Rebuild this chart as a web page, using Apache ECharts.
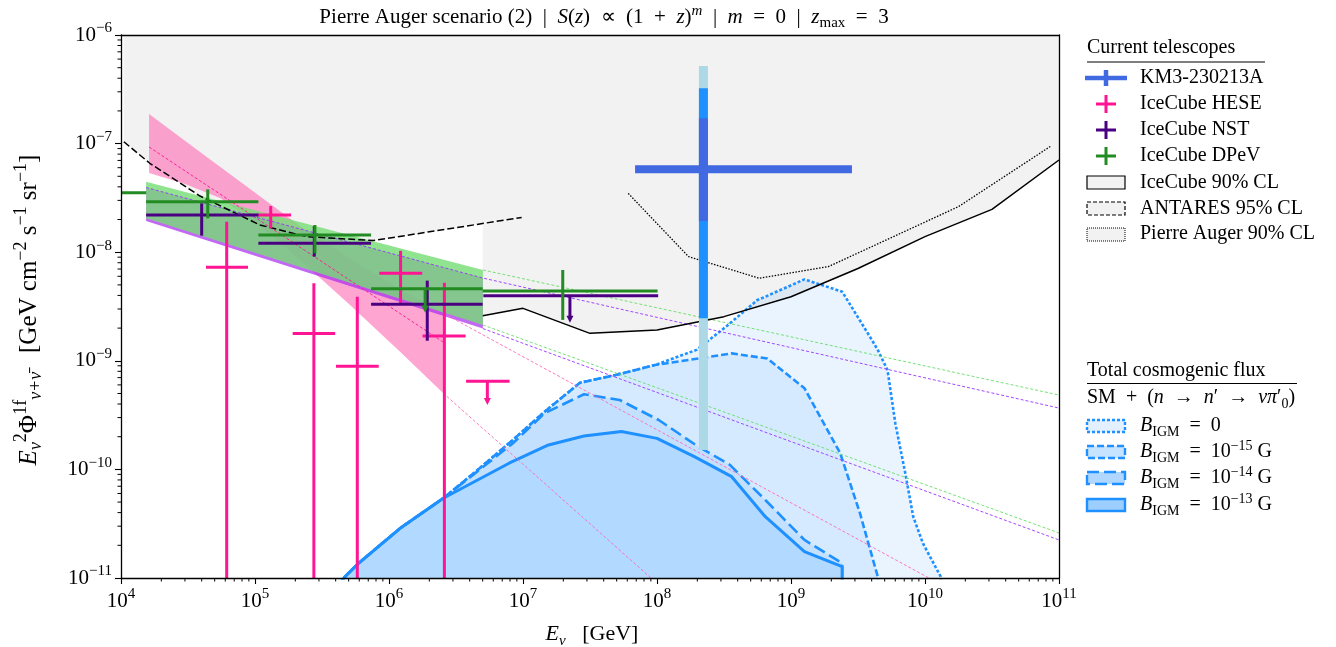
<!DOCTYPE html>
<html><head><meta charset="utf-8">
<script src="https://cdn.jsdelivr.net/npm/echarts@6/dist/echarts.min.js"></script>
<style>html,body{margin:0;padding:0;background:#fff}#c{width:1336px;height:647px}</style>
</head><body><div id="c"></div>
<script>
const FONT = 'Liberation Serif';

// ---------- experimental limits (E [GeV], E^2 Phi) ----------
const antaresLimit = [[1.05e4,1.04e-7],[1.64e4,6.59e-8],[3.89e4,3.29e-8],[1.09e5,1.78e-8],[2.43e5,1.39e-8],[7.64e5,1.28e-8],[9.77e6,2.09e-8]];
const icecubeLimit = [[5.01e6,2.60e-9],[1e7,3.04e-9],[3.16e7,1.79e-9],[1e8,1.92e-9],[3.16e8,2.55e-9],[1e9,3.89e-9],[3.16e9,7.08e-9],[1e10,1.39e-8],[3.16e10,2.48e-8],[1e11,7.06e-8]];
const augerLimit = [[6.1e7,3.48e-8],[1.72e8,9.1e-9],[5.81e8,5.75e-9],[1.9e9,7.36e-9],[1.78e10,2.63e-8],[8.71e10,9.5e-8]];

// ---------- cosmogenic fluxes ----------
const cosmoB0 = [[4.2e5,8.5e-12],[4.70e5,1.03e-11],[5.90e5,1.36e-11],[1.21e6,2.87e-11],[2.54e6,5.42e-11],[4.28e6,9.2e-11],[8.41e6,1.87e-10],[1.45e7,3.40e-10],[2.66e7,6.28e-10],[4.90e7,7.40e-10],[9.66e7,9.14e-10],[1.97e8,1.26e-9],[3.27e8,2.06e-9],[5.61e8,3.63e-9],[6.43e8,3.89e-9],[1.26e9,5.62e-9],[2.41e9,4.33e-9],[4.01e9,1.56e-9],[4.44e9,1.26e-9],[5.25e9,8.23e-10],[6.01e9,2.65e-10],[7.13e9,9.2e-11],[8.17e9,3.67e-11],[9.66e9,2.08e-11],[1.31e10,1.03e-11],[1.35e10,1e-12]];
const cosmoB15 = [[4.2e5,8.5e-12],[4.70e5,1.03e-11],[5.90e5,1.36e-11],[1.21e6,2.87e-11],[2.54e6,5.42e-11],[4.28e6,9.2e-11],[8.41e6,1.87e-10],[1.45e7,3.40e-10],[2.66e7,6.28e-10],[4.90e7,7.40e-10],[9.66e7,9.14e-10],[3.61e8,1.17e-9],[6.65e8,1.05e-9],[1.26e9,5.59e-10],[2.33e9,1.41e-10],[3.27e9,3.95e-11],[4.44e9,1.03e-11],[4.6e9,1e-12]];
const cosmoB14 = [[4.2e5,8.5e-12],[4.70e5,1.03e-11],[5.90e5,1.36e-11],[1.21e6,2.87e-11],[2.54e6,5.42e-11],[4.28e6,9.0e-11],[8.41e6,1.74e-10],[1.45e7,3.29e-10],[2.85e7,4.92e-10],[5.25e7,4.36e-10],[1.03e8,2.85e-10],[2.03e8,1.62e-10],[3.50e8,1.10e-10],[6.43e8,5.23e-11],[1.26e9,2.24e-11],[2.41e9,1.37e-11],[2.41e9,1e-12]];
const cosmoB13 = [[4.2e5,8.5e-12],[4.70e5,1.03e-11],[5.90e5,1.36e-11],[1.21e6,2.87e-11],[2.54e6,5.42e-11],[7.87e6,1.14e-10],[1.55e7,1.68e-10],[2.85e7,2.03e-10],[5.43e7,2.23e-10],[1.0e8,1.93e-10],[1.90e8,1.31e-10],[3.61e8,8.57e-11],[6.43e8,3.67e-11],[1.26e9,1.75e-11],[2.41e9,1.27e-11],[2.41e9,1e-12]];

// ---------- fitted bands ----------
const pinkUpper = [[1.62e4,1.87e-7],[3.89e4,8.38e-8],[9.19e4,3.82e-8],[2.17e5,1.74e-8],[5.12e5,8.65e-9],[1.21e6,4.58e-9],[2.53e6,2.75e-9]];
const pinkLower = [[1.62e4,5.36e-8],[3.01e4,4.25e-8],[5.48e4,3.16e-8],[1.09e5,1.74e-8],[2.17e5,8.47e-9],[5.12e5,3.27e-9],[1.21e6,1.21e-9],[2.53e6,5.05e-10]];
const greenUpper = [[1.54e4,4.46e-8],[5.02e6,6.86e-9]];
const greenLower = [[1.54e4,2.05e-8],[5.02e6,2.14e-9]];
const purpleUpper = [[1.54e4,3.94e-8],[5.02e6,5.78e-9]];
const purpleLower = [[1.54e4,1.94e-8],[5.02e6,1.98e-9]];

// ---------- thin dashed extrapolations ----------
const pinkFit = [[1.62e4,9.3e-8],[2.53e6,1.49e-9]];
const pinkExtUpper = [[2.53e6,2.75e-9],[1.07e10,1e-11]];
const pinkExtLower = [[2.53e6,5.05e-10],[9.02e7,1e-11]];
const greenExtUpper = [[5.02e6,6.86e-9],[1e11,4.84e-10]];
const greenExtLower = [[5.02e6,2.14e-9],[1e11,2.6e-11]];
const purpleExtUpper = [[1.54e4,3.94e-8],[5.02e6,5.78e-9],[1e11,3.67e-10]];
const purpleExtLower = [[5.02e6,1.98e-9],[1e11,2.24e-11]];

// ---------- data points: [E, flux, Elo, Ehi, fluxLo, fluxHi] ----------
const hesePoints = [
  [6.15e4,7.26e-9,4.31e4,8.87e4,1e-13,1.91e-8],
  [1.31e5,2.2e-8,1.04e5,1.86e5,1.66e-8,2.66e-8],
  [2.75e5,1.78e-9,1.91e5,3.97e5,1e-13,5.18e-9],
  [5.8e5,8.9e-10,4.02e5,8.38e5,1e-13,3.89e-9],
  [1.22e6,6.4e-9,8.47e5,1.77e6,3.39e-9,1.03e-8],
  [2.59e6,1.69e-9,1.78e6,3.73e6,1e-13,5.24e-9]];
// upper limits: [E, flux, Elo, Ehi, arrowEnd]
const heseUL = [[5.42e6,6.47e-10,3.76e6,7.94e6,4.0e-10]];
const nstPoints = [
  [4.0e4,2.2e-8,1.54e4,1.06e5,1.42e-8,2.82e-8],
  [2.77e5,1.21e-8,1.06e5,7.35e5,9.1e-9,1.74e-8],
  [1.93e6,3.31e-9,7.35e5,5.0e6,1.53e-9,5.47e-9]];
const nstUL = [[2.24e7,3.98e-9,5.06e6,1.02e8,2.29e-9]];
const dpevPoints = [
  [6.3e3,3.53e-8,2.5e3,1.54e4,2.7e-8,4.6e-8],
  [4.44e4,2.92e-8,1.54e4,1.06e5,2.05e-8,3.79e-8],
  [2.8e5,1.44e-8,1.06e5,7.35e5,9.77e-9,1.78e-8],
  [1.98e7,4.4e-9,5.0e6,1.01e8,2.38e-9,6.86e-9]];
const dpevUL = [[1.86e6,4.61e-9,7.35e5,5.0e6,2.83e-9]];
// KM3-230213A: [E, flux, Elo, Ehi]; sigma ranges [hi, lo] for 3,2,1 sigma
const km3Point = [[2.22e8,5.8e-8,6.86e7,2.85e9]];
const km3Sigma = [[5.19e-7,1.51e-10],[3.23e-7,2.46e-9],[1.71e-7,1.94e-8]];

// ---------- axis ticks ----------
const minorMult = [2,3,4,5,6,7,8,9];
const xDecades = [4,5,6,7,8,9,10];
const yDecades = [-11,-10,-9,-8,-7];
const xMinor = [], yMinor = [];
xDecades.forEach(d => minorMult.forEach(m => xMinor.push([m*Math.pow(10,d),1e-11])));
yDecades.forEach(d => minorMult.forEach(m => yMinor.push([1e4,m*Math.pow(10,d)])));

const fmtExp = v => { const e = Math.round(Math.log10(v)); return e < 0 ? '\u2212' + (-e) : '' + e; };
const tickRich = {
  b:{fontFamily:FONT,fontSize:21,color:'#000',fill:'#000',lineHeight:28},
  s:{fontFamily:FONT,fontSize:15,color:'#000',fill:'#000',verticalAlign:'top'}
};

function lineS(data, color, width, type, z, area) {
  const s = {type:'line', data, symbol:'none', silent:true, z,
    lineStyle:{color, width, type: type || 'solid'}};
  if (area) s.areaStyle = area;
  return s;
}
function fillS(data, origin, color, z) {
  return {type:'line', data, symbol:'none', silent:true, z,
    lineStyle:{width:0, color:'rgba(0,0,0,0)'}, areaStyle:{color, opacity:1, origin}};
}
function polyS(upper, lower, color, z) {
  const pts = upper.concat(lower.slice().reverse());
  return {type:'custom', silent:true, z, clip:true, data:[pts[0]],
    renderItem:(p, api) => ({type:'polygon', shape:{points: pts.map(q => api.coord(q))}, style:{fill:color}})};
}
function errS(rows, color, lw, z) {
  return {type:'custom', silent:true, z, clip:true, data: rows,
    renderItem:(p, api) => {
      const E = api.value(0), F = api.value(1);
      const l = api.coord([api.value(2),F]), r = api.coord([api.value(3),F]);
      const t = api.coord([E,api.value(5)]), b = api.coord([E,api.value(4)]);
      return {type:'group', children:[
        {type:'line', shape:{x1:l[0],y1:l[1],x2:r[0],y2:r[1]}, style:{stroke:color,lineWidth:lw}},
        {type:'line', shape:{x1:t[0],y1:t[1],x2:b[0],y2:b[1]}, style:{stroke:color,lineWidth:lw}}]};
    }};
}
function ulS(rows, color, lw, z) {
  return {type:'custom', silent:true, z, clip:true, data: rows,
    renderItem:(p, api) => {
      const E = api.value(0), F = api.value(1);
      const l = api.coord([api.value(2),F]), r = api.coord([api.value(3),F]);
      const c = api.coord([E,F]), b = api.coord([E,api.value(4)]);
      return {type:'group', children:[
        {type:'line', shape:{x1:l[0],y1:l[1],x2:r[0],y2:r[1]}, style:{stroke:color,lineWidth:lw}},
        {type:'line', shape:{x1:c[0],y1:c[1],x2:b[0],y2:b[1]-3}, style:{stroke:color,lineWidth:lw}},
        {type:'polygon', shape:{points:[[b[0]-3.5,b[1]-6],[b[0]+3.5,b[1]-6],[b[0],b[1]+1]]}, style:{fill:color}}]};
    }};
}
function km3S(z) {
  const cols = ['#add8e6','#1e90ff','#4169e1'];
  return {type:'custom', silent:true, z, clip:true, data: km3Point,
    renderItem:(p, api) => {
      const E = api.value(0), F = api.value(1);
      const ch = [];
      km3Sigma.forEach((s, i) => {
        const t = api.coord([E,s[0]]), b = api.coord([E,s[1]]);
        ch.push({type:'line', shape:{x1:t[0],y1:t[1],x2:b[0],y2:b[1]}, style:{stroke:cols[i],lineWidth:9}});
      });
      const l = api.coord([api.value(2),F]), r = api.coord([api.value(3),F]);
      ch.push({type:'line', shape:{x1:l[0],y1:l[1],x2:r[0],y2:r[1]}, style:{stroke:'#4169e1',lineWidth:8}});
      return {type:'group', children: ch};
    }};
}
function tickS(data, dx, dy) {
  return {type:'custom', silent:true, z:20, clip:false, data,
    renderItem:(p, api) => {
      const c = api.coord([api.value(0), api.value(1)]);
      return {type:'line', shape:{x1:c[0],y1:c[1],x2:c[0]+dx,y2:c[1]+dy}, style:{stroke:'#000',lineWidth:1}};
    }};
}

const blueA = 'rgba(30,144,255,0.14)';
const series = [
  fillS(antaresLimit,'end','#f2f2f2',1),
  fillS(icecubeLimit,'end','#f2f2f2',1),
  fillS(augerLimit,'end','#f2f2f2',1),
  lineS(cosmoB0,'#1e90ff',2.6,[3,2],2,{color:blueA,origin:'start'}),
  lineS(cosmoB15,'#1e90ff',2.6,[7,3],2,{color:blueA,origin:'start'}),
  lineS(cosmoB14,'#1e90ff',2.6,[12,5],2,{color:blueA,origin:'start'}),
  lineS(cosmoB13,'#1e90ff',3,'solid',2,{color:blueA,origin:'start'}),
  polyS(pinkUpper,pinkLower,'rgba(255,105,180,0.6)',3),
  polyS(purpleUpper,purpleLower,'rgba(170,40,240,0.7)',3),
  polyS(greenUpper,greenLower,'rgba(116,221,116,0.8)',3),
  lineS(pinkFit,'#ff1493',0.9,[3,2],4),
  lineS(pinkExtUpper,'#ff69b4',0.9,[3,2],4),
  lineS(pinkExtLower,'#ff69b4',0.9,[3,2],4),
  lineS(greenExtUpper,'#66dd66',0.9,[3,2],4),
  lineS(greenExtLower,'#66dd66',0.9,[3,2],4),
  lineS(purpleExtUpper,'#9933ff',0.9,[3,2],4),
  lineS(purpleExtLower,'#9933ff',0.9,[3,2],4),
  lineS(antaresLimit,'#000',1.5,[7,3],6),
  lineS(icecubeLimit,'#000',1.5,'solid',6),
  lineS(augerLimit,'#000',1.3,[1.5,1.5],6),
  errS(hesePoints,'#ff1493',3,7),
  ulS(heseUL,'#ff1493',3,7),
  errS(nstPoints,'#4b0082',3,7),
  ulS(nstUL,'#4b0082',3,7),
  errS(dpevPoints,'#228b22',3,7),
  ulS(dpevUL,'#228b22',3,7),
  km3S(8),
  tickS(xMinor,0,3.5),
  tickS(yMinor,-3.5,0)
];

// ---------- graphic texts & legends ----------
const R = s => {
  const ss = Math.round(s*0.7);
  return {
    i:{fontFamily:FONT,fontSize:s,fontStyle:'italic',fill:'#000'},
    p:{fontFamily:FONT,fontSize:ss,fill:'#000',verticalAlign:'top'},
    pi:{fontFamily:FONT,fontSize:ss,fontStyle:'italic',fill:'#000',verticalAlign:'top'},
    b:{fontFamily:FONT,fontSize:ss,fill:'#000',verticalAlign:'bottom'},
    bi:{fontFamily:FONT,fontSize:ss,fontStyle:'italic',fill:'#000',verticalAlign:'bottom'}
  };
};
const G = [];
function addText(x, y, text, o) {
  o = o || {};
  const size = o.size || 20;
  G.push({type:'text', x, y, rotation:o.rot || 0, z:100, silent:true,
    style:{text, fontFamily:FONT, fontSize:size, fill:'#000', align:o.align || 'left',
      verticalAlign:'middle', lineHeight: o.lh || Math.round(size*1.3), rich:R(size)}});
}
function addLine(x1,y1,x2,y2,color,lw,dash) {
  G.push({type:'line', z:100, silent:true, shape:{x1,y1,x2,y2}, style:{stroke:color,lineWidth:lw,lineDash:dash||null}});
}
function addRect(x,y,w,h,fill,stroke,lw,dash) {
  G.push({type:'rect', z:100, silent:true, shape:{x,y,width:w,height:h}, style:{fill,stroke,lineWidth:lw,lineDash:dash||null}});
}

const SP = '\u2002'; // en space for math spacing
addText(604, 17, 'Pierre Auger scenario (2)' + SP + '|' + SP + '{i|S}({i|z})' + SP + '\u221d' + SP + '(1' + SP + '+' + SP + '{i|z}){pi|m}' + SP + '|' + SP + '{i|m}' + SP + '=' + SP + '0' + SP + '|' + SP + '{i|z}{b|max}' + SP + '=' + SP + '3', {size:21, align:'center'});
addText(592, 634, '{i|E}{bi|\u03bd}' + SP + ' [GeV]', {size:22, align:'center'});
addText(29, 310, '{i|E}{bi|\u03bd}{p|2}\u03a6{p|1f}{bi|\u03bd+\u03bd\u0304}' + SP + ' [GeV cm{p|\u22122} s{p|\u22121} sr{p|\u22121}]', {size:25, align:'center', rot:Math.PI/2});

// legend 1
const L1 = 1087, LT = 1140;
addText(L1, 48, 'Current telescopes');
addLine(L1, 62, 1265, 62, '#000', 1);
addLine(1085, 78, 1127, 78, '#4169e1', 4.5); addLine(1106, 70, 1106, 86, '#4169e1', 4.5);
addText(LT, 78, 'KM3-230213A');
[['#ff1493',104,'IceCube HESE'],['#4b0082',130,'IceCube NST'],['#228b22',156,'IceCube DPeV']].forEach(e => {
  addLine(1096, e[1], 1116, e[1], e[0], 3); addLine(1106, e[1]-9, 1106, e[1]+9, e[0], 3);
  addText(LT, e[1], e[2]);
});
addRect(1087, 176, 38, 13, '#f2f2f2', '#000', 1.2, null); addText(LT, 183, 'IceCube 90% CL');
addRect(1087, 202, 38, 13, '#f2f2f2', '#000', 1.2, [4,2]); addText(LT, 209, 'ANTARES 95% CL');
addRect(1087, 228, 38, 13, '#f2f2f2', '#000', 1, [1,1]); addText(LT, 234, 'Pierre Auger 90% CL');

// legend 2
addText(L1, 371, 'Total cosmogenic flux');
addLine(L1, 383.5, 1297, 383.5, '#000', 1);
addText(L1, 398, 'SM' + SP + '+' + SP + '({i|n}' + SP + '\u2192' + SP + '{i|n}\u2032' + SP + '\u2192' + SP + '{i|\u03bd\u03c0}\u2032{b|0})');
[['rgb(226,240,255)',[3,2],426,'{i|B}{b|IGM}' + SP + '=' + SP + '0'],
 ['rgb(198,227,255)',[7,3],452,'{i|B}{b|IGM}' + SP + '=' + SP + '10{p|\u221215} G'],
 ['rgb(176,215,255)',[12,5],478,'{i|B}{b|IGM}' + SP + '=' + SP + '10{p|\u221214} G'],
 ['rgb(156,206,255)',null,505,'{i|B}{b|IGM}' + SP + '=' + SP + '10{p|\u221213} G']].forEach(e => {
  addRect(1087, e[2]-6, 38, 12, e[0], '#1e90ff', 2.4, e[1]);
  addText(LT, e[2], e[3]);
});

const axisCommon = {
  type:'log', logBase:10, z:10, splitLine:{show:false},
  axisLine:{show:true, lineStyle:{color:'#000', width:1.3}}
};
const option = {
  animation:false,
  backgroundColor:'#fff',
  grid:{left:121, top:35, width:938, height:543, containLabel:false},
  xAxis:[
    Object.assign({}, axisCommon, {min:1e4, max:1e11, splitNumber:7, position:'bottom',
      axisTick:{show:true, inside:false, length:6, lineStyle:{color:'#000', width:1.1}},
      axisLabel:{show:true, margin:9, showMinLabel:true, showMaxLabel:true, formatter: v => '{b|10}{s|' + fmtExp(v) + '}', rich:tickRich}}),
    Object.assign({}, axisCommon, {min:1e4, max:1e11, position:'top', axisTick:{show:false}, axisLabel:{show:false}})
  ],
  yAxis:[
    Object.assign({}, axisCommon, {min:1e-11, max:1e-6, splitNumber:5, position:'left',
      axisTick:{show:true, inside:false, length:6, lineStyle:{color:'#000', width:1.1}},
      axisLabel:{show:true, margin:9, showMinLabel:true, showMaxLabel:true, formatter: v => '{b|10}{s|' + fmtExp(v) + '}', rich:tickRich}}),
    Object.assign({}, axisCommon, {min:1e-11, max:1e-6, position:'right', axisTick:{show:false}, axisLabel:{show:false}})
  ],
  series,
  graphic: G
};
const chart = echarts.init(document.getElementById('c'), null, {renderer:'canvas'});
chart.setOption(option);
</script></body></html>
